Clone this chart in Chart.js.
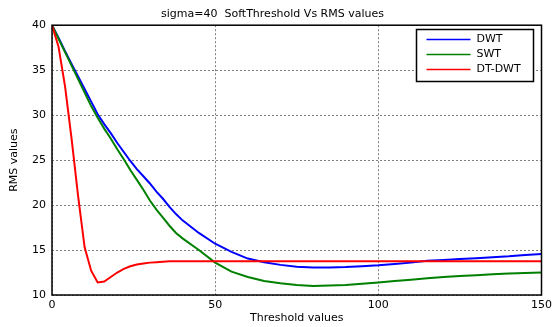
<!DOCTYPE html>
<html>
<head>
<meta charset="utf-8">
<title>SoftThreshold Vs RMS values</title>
<script src="https://cdn.jsdelivr.net/npm/chart.js@4.4.1/dist/chart.umd.min.js"></script>
<style>
  html, body { margin: 0; padding: 0; background: #fff; }
  #wrap { width: 556px; height: 327px; position: relative; }
</style>
</head>
<body>
<div id="wrap"><canvas id="rmsChart"></canvas></div>
<script>
// threshold values (x axis)
const thresholds = [0, 2, 4, 6, 8, 10, 12, 14, 16, 18, 20, 22, 24, 26, 28, 30, 32, 34, 36, 38, 40,
  45, 50, 55, 60, 65, 70, 75, 80, 85, 90, 95, 100, 105, 110, 115, 120, 125, 130, 135, 140, 145, 150]

const dwtRms = [40, 38.6, 37.1, 35.7, 34.3, 32.9, 31.5, 30.1, 29.0, 28.0, 26.9, 25.9, 24.9, 24.0, 23.2, 22.4, 21.5, 20.7, 19.8, 19.0, 18.3,
  16.9, 15.7, 14.8, 14.05, 13.65, 13.35, 13.15, 13.05, 13.05, 13.1, 13.2, 13.3, 13.45, 13.6, 13.8, 13.9, 14.0, 14.1, 14.2, 14.3, 14.45, 14.55]

const swtRms = [40, 38.5, 37.0, 35.5, 34.0, 32.5, 31.0, 29.7, 28.5, 27.4, 26.2, 25.1, 23.9, 22.8, 21.7, 20.5, 19.5, 18.6, 17.7, 16.9, 16.3,
  15.0, 13.6, 12.6, 12.0, 11.55, 11.3, 11.1, 11.0, 11.05, 11.1, 11.25, 11.4, 11.55, 11.7, 11.85, 12.0, 12.1, 12.2, 12.3, 12.4, 12.45, 12.5]

const dtdwtRms = [40, 37.6, 33.2, 27.4, 21.0, 15.3, 12.7, 11.4, 11.5, 12.0, 12.5, 12.9, 13.2, 13.4, 13.5, 13.6, 13.65, 13.7, 13.75, 13.75, 13.75,
  13.75, 13.75, 13.75, 13.75, 13.75, 13.75, 13.75, 13.75, 13.75, 13.75, 13.75, 13.75, 13.75, 13.75, 13.75, 13.75, 13.75, 13.75, 13.75, 13.75, 13.75, 13.75]

const seriesNames = ["DWT", "SWT", "DT-DWT"]
const seriesColors = ["#0000ff", "#008000", "#ff0000"]

const FONT = "'DejaVu Sans', sans-serif"

const toPoints = vals => vals.map((v, i) => ({ x: thresholds[i], y: v }))

// black box round the plot + legend box top right, like matlab
const framePlugin = {
  id: "frame",
  afterDatasetsDraw(chart) {
    const { ctx, chartArea: a } = chart
    ctx.save()
    ctx.strokeStyle = "#000"
    ctx.lineWidth = 1.5
    ctx.strokeRect(a.left, a.top, a.right - a.left, a.bottom - a.top)

    // legend
    const bx = 416.5, by = 29.5, bw = 117, bh = 52
    ctx.fillStyle = "#fff"
    ctx.fillRect(bx, by, bw, bh)
    ctx.strokeRect(bx, by, bw, bh)
    ctx.font = "11px " + FONT
    ctx.textBaseline = "middle"
    chart.data.datasets.forEach((ds, i) => {
      const y = by + 10 + i * 15
      ctx.strokeStyle = ds.borderColor
      ctx.lineWidth = 1.5
      ctx.beginPath()
      ctx.moveTo(bx + 10, y)
      ctx.lineTo(bx + 54, y)
      ctx.stroke()
      ctx.fillStyle = "#000"
      ctx.fillText(ds.label, bx + 60, y)
    })
    ctx.restore()
  },
}

const ctx = document.getElementById("rmsChart").getContext("2d")

new Chart(ctx, {
  type: "line",
  data: {
    datasets: [dwtRms, swtRms, dtdwtRms].map((vals, i) => ({
      label: seriesNames[i],
      data: toPoints(vals),
      borderColor: seriesColors[i],
      backgroundColor: seriesColors[i],
      borderWidth: 2,
      pointRadius: 0,
      tension: 0,
      order: 3 - i,
    })),
  },
  options: {
    responsive: true,
    maintainAspectRatio: false,
    animation: false,
    layout: { padding: { left: 0, right: 11, top: 0, bottom: 0 } },
    plugins: {
      legend: { display: false },
      tooltip: { enabled: false },
      title: {
        display: true,
        text: "sigma=40  SoftThreshold Vs RMS values",
        color: "#000",
        font: { family: FONT, size: 11, weight: "normal" },
        padding: { top: 8, bottom: 4 },
      },
    },
    scales: {
      x: {
        type: "linear",
        min: 0,
        max: 150,
        afterFit: scale => { scale.height = 32 },
        ticks: {
          stepSize: 50,
          color: "#000",
          padding: 4,
          maxRotation: 0,
          font: { family: FONT, size: 11 },
        },
        grid: { color: "#808080", lineWidth: 1, drawTicks: false },
        border: { display: false, dash: [2, 2] },
        title: {
          display: true,
          text: "Threshold values",
          color: "#000",
          font: { family: FONT, size: 11 },
          padding: { top: 0, bottom: 2 },
        },
      },
      y: {
        min: 10,
        max: 40,
        afterFit: scale => { scale.width = 52 },
        ticks: {
          stepSize: 5,
          color: "#000",
          padding: 6,
          font: { family: FONT, size: 11 },
        },
        grid: { color: "#808080", lineWidth: 1, drawTicks: false },
        border: { display: false, dash: [2, 2] },
        title: {
          display: true,
          text: "RMS values",
          color: "#000",
          font: { family: FONT, size: 11 },
          padding: { top: 8, bottom: 0 },
        },
      },
    },
  },
  plugins: [framePlugin],
})
</script>
</body>
</html>
